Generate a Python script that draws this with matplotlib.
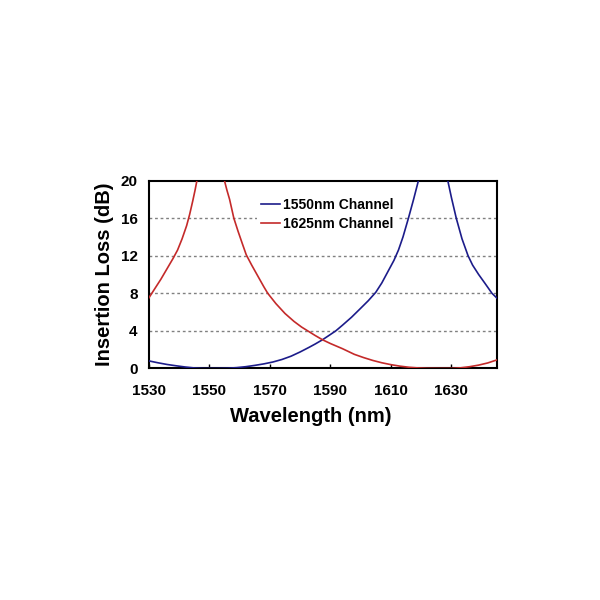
import matplotlib
matplotlib.use("Agg")
import matplotlib.pyplot as plt

plt.rcParams['font.family'] = ['Liberation Sans', 'DejaVu Sans']

# 1550nm channel (blue)
wl_1550 = [1530, 1533, 1536, 1539, 1542, 1545, 1548, 1552, 1556, 1559, 1562,
           1565, 1568, 1571, 1574, 1577, 1580, 1583, 1585, 1587.4, 1589.5,
           1591.8, 1594, 1597, 1600, 1602.5, 1605, 1607, 1609, 1611, 1612.5,
           1614, 1615.8, 1617.5, 1619.1]
il_1550 = [0.8, 0.6, 0.42, 0.28, 0.15, 0.05, 0.0, 0.0, 0.02, 0.08, 0.18,
           0.32, 0.48, 0.68, 0.95, 1.3, 1.75, 2.25, 2.6, 3.05, 3.5,
           4.0, 4.6, 5.45, 6.4, 7.2, 8.1, 9.1, 10.3, 11.5, 12.6,
           14.0, 16.0, 18.0, 20.0]
wl_1550_r = [1628.8, 1630, 1631.6, 1633.5, 1635.5, 1637, 1639, 1641, 1643.4, 1645]
il_1550_r = [20.0, 18.2, 16.0, 13.8, 12.0, 11.0, 10.0, 9.1, 8.0, 7.5]

# 1625nm channel (red)
wl_1625_l = [1530, 1532, 1534, 1536, 1538, 1539.5, 1541, 1542.5, 1543.5,
             1544.5, 1545.3, 1545.9]
il_1625_l = [7.5, 8.5, 9.5, 10.6, 11.7, 12.6, 13.8, 15.2, 16.4,
             17.8, 19.0, 20.0]
wl_1625 = [1555, 1555.8, 1556.7, 1557.4, 1558.1, 1559.5, 1561, 1562.2, 1564,
           1566, 1568, 1569.3, 1572, 1575, 1578, 1580.5, 1582.5, 1585, 1587.4,
           1590, 1594, 1597.9, 1601, 1604, 1607, 1610, 1613, 1616, 1619, 1622,
           1626, 1630, 1633, 1636, 1639, 1642, 1645]
il_1625 = [20.0, 19.0, 18.0, 17.0, 16.0, 14.6, 13.2, 12.1, 11.0,
           9.85, 8.7, 8.0, 6.9, 5.85, 5.0, 4.4, 4.0, 3.5, 3.05,
           2.65, 2.1, 1.5, 1.15, 0.85, 0.6, 0.4, 0.24, 0.12, 0.05, 0.01,
           0.0, 0.0, 0.06, 0.18, 0.35, 0.58, 0.9]

xticks = [1530, 1550, 1570, 1590, 1610, 1630]
yticks = [0, 4, 8, 12, 16, 20]

blue = '#1c1c8a'
red = '#c42a2a'

fig = plt.figure(figsize=(6, 6), dpi=100)
ax = fig.add_axes([0.248, 0.386, 0.58, 0.313])

for y in yticks[1:-1]:
    ax.axhline(y, color='#808080', lw=1, ls=(0, (2, 2)), zorder=1)

ax.plot(wl_1550, il_1550, color=blue, lw=1.2, label='1550nm Channel', zorder=3)
ax.plot(wl_1550_r, il_1550_r, color=blue, lw=1.2, zorder=3)
ax.plot(wl_1625_l, il_1625_l, color=red, lw=1.2, zorder=3)
ax.plot(wl_1625, il_1625, color=red, lw=1.2, label='1625nm Channel', zorder=3)

ax.set_xlim(1530, 1645)
ax.set_ylim(0, 20)
ax.set_xticks(xticks)
ax.set_yticks(yticks)
ax.tick_params(axis='x', direction='in', length=3, width=1, pad=11)
ax.tick_params(axis='y', length=0, pad=8)
for lab in ax.get_xticklabels() + ax.get_yticklabels():
    lab.set_fontweight('bold')
    lab.set_fontsize(11)
for s in ax.spines.values():
    s.set_linewidth(1.5)

ax.set_xlabel('Wavelength (nm)', fontsize=14.5, fontweight='bold')
ax.xaxis.set_label_coords(0.466, -0.205)
ax.set_ylabel('Insertion Loss (dB)', fontsize=14.5, fontweight='bold', labelpad=5)

leg = ax.legend(loc='upper left', bbox_to_anchor=(0.31, 0.93), borderaxespad=0,
                frameon=True, facecolor='white', edgecolor='none', framealpha=1,
                fancybox=False, handlelength=1.4, handletextpad=0.2,
                labelspacing=0.35, borderpad=0.3,
                prop={'weight': 'bold', 'size': 10})
leg.set_zorder(2)

fig.savefig('out.png', dpi=100)
